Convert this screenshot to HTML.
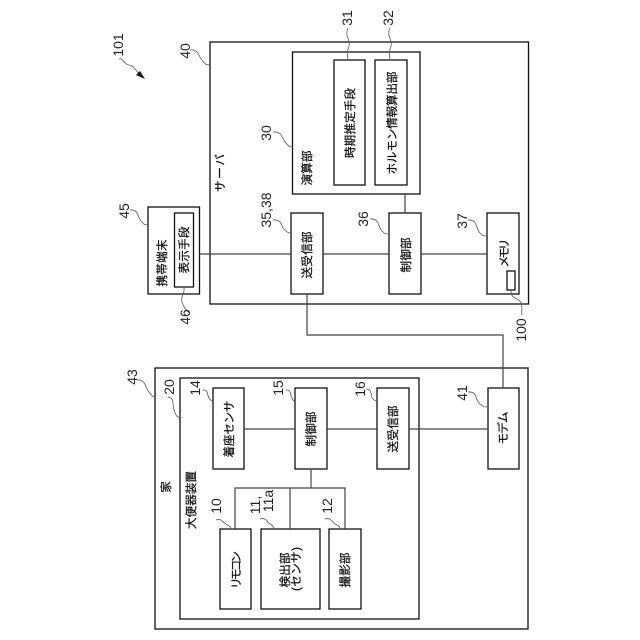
<!DOCTYPE html>
<html><head><meta charset="utf-8"><style>
html,body{margin:0;padding:0;background:#fff;width:640px;height:640px;overflow:hidden}
svg{display:block}
text{font-family:"Liberation Sans","Noto Sans CJK JP",sans-serif;fill:#111;text-anchor:middle;stroke:#111;stroke-width:.25}
.j{font-size:11.6px}
.n{font-size:14px}
.n text{stroke:none;fill:#222}
rect{fill:none;stroke:#111;stroke-width:1.3}
.c{fill:none;stroke:#444;stroke-width:1.2}
.l{fill:none;stroke:#555;stroke-width:.8}
</style></head><body>
<svg width="640" height="640" viewBox="0 0 640 640" xmlns="http://www.w3.org/2000/svg">
<!-- boxes -->
<rect x="210" y="42" width="318.5" height="262"/>
<rect x="292.5" y="52" width="127.5" height="142"/>
<rect x="334" y="60" width="31" height="125"/>
<rect x="375" y="60" width="32" height="125"/>
<rect x="291" y="213" width="32" height="81"/>
<rect x="389" y="213" width="32" height="81"/>
<rect x="487" y="213" width="32" height="81"/>
<rect x="507" y="271" width="8" height="19"/>
<rect x="148" y="207" width="51.500" height="87"/>
<rect x="174.500" y="213" width="19" height="74"/>
<rect x="155" y="368" width="373" height="261"/>
<rect x="180" y="378" width="239" height="241"/>
<rect x="213" y="388" width="31" height="81"/>
<rect x="295" y="388" width="32" height="81"/>
<rect x="377" y="388" width="32" height="81"/>
<rect x="488" y="388" width="31" height="81"/>
<rect x="220" y="529" width="31" height="80"/>
<rect x="261" y="529" width="59" height="80"/>
<rect x="329" y="529" width="32" height="80"/>
<!-- connectors -->
<path class="c" d="M199.500 254H291M323 254H389M421 254H487M405 194V213M307 294V335H503V388"/>
<path class="c" d="M244 429H295M327 429H377M409 429H488M311 469V488M235 529V488H345V529M290 488V529"/>
<!-- leaders -->
<path class="l" d="M119 59C124 58 124 65 129 65C134 65 135 71 142 76"/>
<path d="M145 79L136 75L140 71Z" fill="#111"/>
<path class="l" d="M190 50C199 49 198 56 202 60C205 64 206 65 210 65"/>
<path class="l" d="M273 132C283 131 282 140 286 143C289 147 290 147 293 147"/>
<path class="l" d="M273 220C283 219 281 228 285 230C288 233 289 233 292 233"/>
<path class="l" d="M130 210C140 209 137 219 142 222C144 225 146 225 148 225"/>
<path class="l" d="M184 287C185 295 180 297 182 302C184 307 186 311 190 313"/>
<path class="l" d="M348 28C344 36 351 40 349 46C347 52 347 55 348 60"/>
<path class="l" d="M390 28C386 36 393 40 391 46C389 52 389 55 390 60"/>
<path class="l" d="M370 219C380 218 378 228 382 231C385 234 386 234 389 234"/>
<path class="l" d="M468 220C478 219 476 230 480 233C483 236 484 236 487 236"/>
<path class="l" d="M511 291C511 300 519 297 521 303C523 308 521 311 522 315"/>
<path class="l" d="M137 380C146 379 145 388 149 392C152 396 153 397 155 397"/>
<path class="l" d="M168 397C175 398 172 405 174 410C176 416 177 417 180 418"/>
<path class="l" d="M203 390C209 390 207 396 209 398C211 401 212 401 213 401"/>
<path class="l" d="M286 390C292 390 290 396 292 398C293 401 294 401 295 401"/>
<path class="l" d="M366 389C373 389 370 396 373 399C375 401 376 401 377 401"/>
<path class="l" d="M468 392C478 391 475 401 480 404C483 407 485 407 487 407"/>
<path class="l" d="M216 520C222 518 223 523 226 524C229 526 230 526 231 528"/>
<path class="l" d="M260 519C266 517 267 522 270 524C272 525 273 526 274 528"/>
<path class="l" d="M325 519C331 517 332 522 335 524C338 525 339 526 340 528"/>
<!-- japanese labels -->
<g class="j">
<text transform="translate(220,173) rotate(-90)" dy=".35em" textLength="38">サーバ</text>
<text transform="translate(307,168) rotate(-90)" dy=".35em" textLength="35">演算部</text>
<text transform="translate(307,255) rotate(-90)" dy=".35em" textLength="47">送受信部</text>
<text transform="translate(350,123) rotate(-90)" dy=".35em" textLength="70">時期推定手段</text>
<text transform="translate(392,123) rotate(-90)" dy=".35em" textLength="103">ホルモン情報算出部</text>
<text transform="translate(406,255) rotate(-90)" dy=".35em" textLength="35">制御部</text>
<text transform="translate(504,253) rotate(-90)" dy=".35em" textLength="29">メモリ</text>
<text transform="translate(162,263) rotate(-90)" dy=".35em" textLength="47">携帯端末</text>
<text transform="translate(184,250) rotate(-90)" dy=".35em" textLength="47">表示手段</text>
<text transform="translate(166,487) rotate(-90)" dy=".35em">家</text>
<text transform="translate(191,500) rotate(-90)" dy=".35em" textLength="58">大便器装置</text>
<text transform="translate(229,429) rotate(-90)" dy=".35em" textLength="57">着座センサ</text>
<text transform="translate(311,429) rotate(-90)" dy=".35em" textLength="35">制御部</text>
<text transform="translate(393,429) rotate(-90)" dy=".35em" textLength="47">送受信部</text>
<text transform="translate(503,428) rotate(-90)" dy=".35em" textLength="33">モデム</text>
<text transform="translate(236,570) rotate(-90)" dy=".35em" textLength="38">リモコン</text>
<text transform="translate(285,570) rotate(-90)" dy=".35em" textLength="35">検出部</text>
<text transform="translate(296,569) rotate(-90)" dy=".35em" textLength="44">(センサ)</text>
<text transform="translate(345,570) rotate(-90)" dy=".35em" textLength="35">撮影部</text>
</g>
<!-- numbers -->
<g class="n">
<text transform="translate(118,45) rotate(-90)" dy=".35em">101</text>
<text transform="translate(185,51) rotate(-90)" dy=".35em">40</text>
<text transform="translate(266,133) rotate(-90)" dy=".35em">30</text>
<text transform="translate(266,210) rotate(-90)" dy=".35em">35,38</text>
<text transform="translate(124,211) rotate(-90)" dy=".35em">45</text>
<text transform="translate(185,317) rotate(-90)" dy=".35em">46</text>
<text transform="translate(347,18) rotate(-90)" dy=".35em">31</text>
<text transform="translate(388,18) rotate(-90)" dy=".35em">32</text>
<text transform="translate(363,219) rotate(-90)" dy=".35em">36</text>
<text transform="translate(462,221) rotate(-90)" dy=".35em">37</text>
<text transform="translate(521,330) rotate(-90)" dy=".35em">100</text>
<text transform="translate(132,377) rotate(-90)" dy=".35em">43</text>
<text transform="translate(169,387) rotate(-90)" dy=".35em">20</text>
<text transform="translate(195,388) rotate(-90)" dy=".35em">14</text>
<text transform="translate(278,388) rotate(-90)" dy=".35em">15</text>
<text transform="translate(360,389) rotate(-90)" dy=".35em">16</text>
<text transform="translate(462,393) rotate(-90)" dy=".35em">41</text>
<text transform="translate(216,506) rotate(-90)" dy=".35em">10</text>
<text transform="translate(255,505) rotate(-90)" dy=".35em">11,</text>
<text transform="translate(268,501) rotate(-90)" dy=".35em">11a</text>
<text transform="translate(327,506) rotate(-90)" dy=".35em">12</text>
</g>
</svg>
</body></html>
